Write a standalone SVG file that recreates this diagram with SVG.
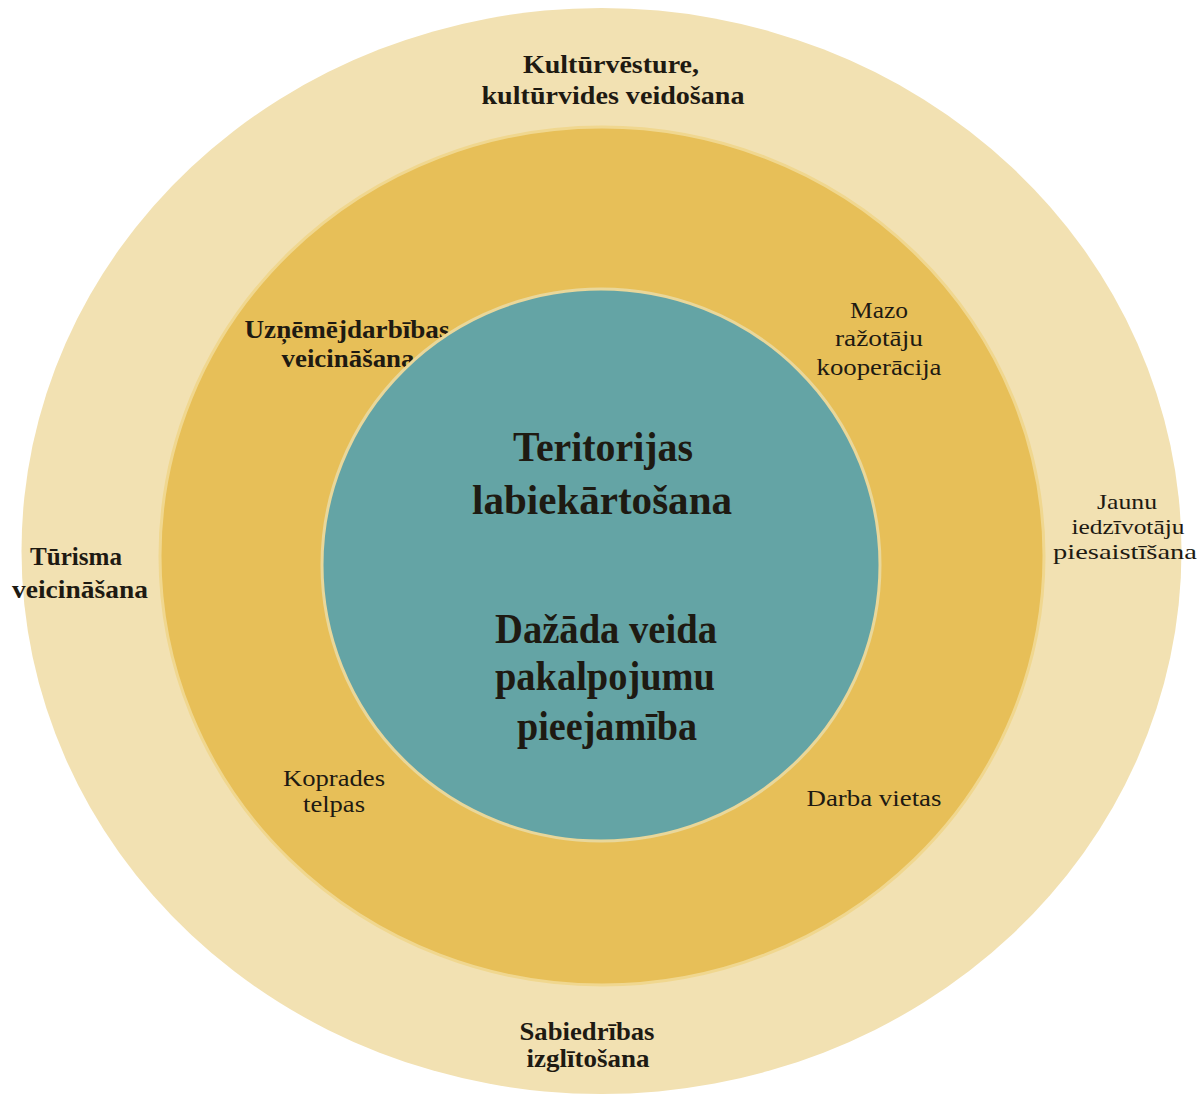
<svg xmlns="http://www.w3.org/2000/svg" width="1203" height="1104" viewBox="0 0 1203 1104">
<style>
.t{font-family:"Liberation Serif","Times New Roman",serif;fill:#1e1a12;text-anchor:middle}
.b{font-weight:bold;font-size:26px}
.s{font-size:24px}
.j{font-size:21px}
.c{font-size:42px;font-weight:bold}
</style>
<rect width="1203" height="1104" fill="#ffffff"/>
<g id="outer">
<ellipse cx="601.5" cy="551" rx="580" ry="543" fill="#F2E1B2"/>
<text class="t b" x="611" y="73" textLength="176" lengthAdjust="spacingAndGlyphs">Kultūrvēsture,</text>
<text class="t b" x="613" y="104" textLength="263" lengthAdjust="spacingAndGlyphs">kultūrvides veidošana</text>
<text class="t b" x="76" y="565" textLength="92" lengthAdjust="spacingAndGlyphs">Tūrisma</text>
<text class="t b" x="80" y="598" textLength="136" lengthAdjust="spacingAndGlyphs">veicināšana</text>
<text class="t j" x="1127" y="509" textLength="60" lengthAdjust="spacingAndGlyphs">Jaunu</text>
<text class="t j" x="1128" y="534" textLength="113" lengthAdjust="spacingAndGlyphs">iedzīvotāju</text>
<text class="t j" x="1125" y="559" textLength="144" lengthAdjust="spacingAndGlyphs">piesaistīšana</text>
<text class="t b" x="587" y="1040" textLength="135" lengthAdjust="spacingAndGlyphs">Sabiedrības</text>
<text class="t b" x="588" y="1067" textLength="123" lengthAdjust="spacingAndGlyphs">izglītošana</text>
</g>
<g id="middle">
<ellipse cx="602" cy="556" rx="442" ry="429" fill="#E7BF58" stroke="#F0D78F" stroke-width="3"/>
<text class="t b" x="347" y="338" textLength="205" lengthAdjust="spacingAndGlyphs">Uzņēmējdarbības</text>
<text class="t b" x="348" y="367" textLength="133" lengthAdjust="spacingAndGlyphs">veicināšana</text>
<text class="t s" x="879" y="318" textLength="58" lengthAdjust="spacingAndGlyphs">Mazo</text>
<text class="t s" x="879" y="346" textLength="88" lengthAdjust="spacingAndGlyphs">ražotāju</text>
<text class="t s" x="879" y="375" textLength="125" lengthAdjust="spacingAndGlyphs">kooperācija</text>
<text class="t s" x="334" y="786" textLength="102" lengthAdjust="spacingAndGlyphs">Koprades</text>
<text class="t s" x="334" y="812" textLength="62" lengthAdjust="spacingAndGlyphs">telpas</text>
<text class="t s" x="874" y="806" textLength="135" lengthAdjust="spacingAndGlyphs">Darba vietas</text>
</g>
<g id="inner">
<ellipse cx="601" cy="565" rx="279" ry="276" fill="#64A4A5" stroke="#E9D79A" stroke-width="3"/>
<text class="t c" x="603" y="461" textLength="180" lengthAdjust="spacingAndGlyphs">Teritorijas</text>
<text class="t c" x="602" y="514" textLength="260" lengthAdjust="spacingAndGlyphs">labiekārtošana</text>
<text class="t c" x="606" y="643" textLength="222" lengthAdjust="spacingAndGlyphs">Dažāda veida</text>
<text class="t c" x="605" y="690" textLength="220" lengthAdjust="spacingAndGlyphs">pakalpojumu</text>
<text class="t c" x="607" y="740" textLength="180" lengthAdjust="spacingAndGlyphs">pieejamība</text>
</g>
<g id="connectors"/>
</svg>
